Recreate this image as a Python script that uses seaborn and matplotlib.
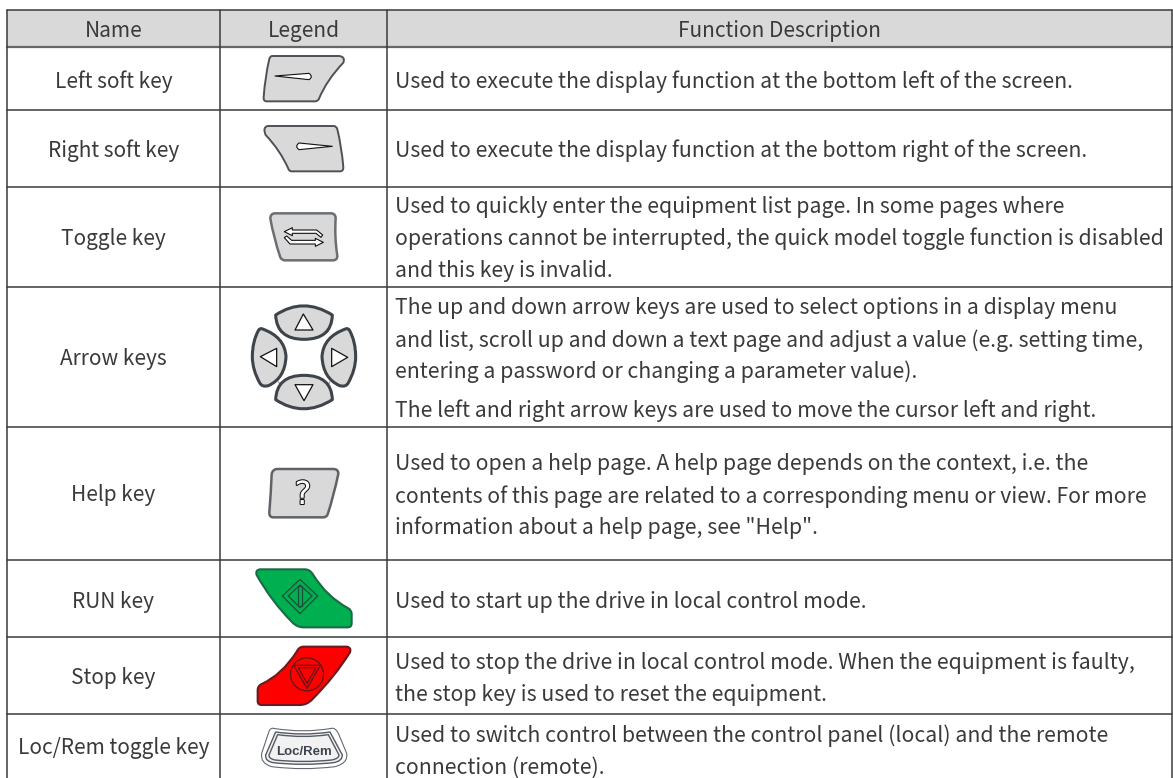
#!/usr/bin/env python3
"""Control panel key table, drawn on a pixel-sized axes."""

import re
import matplotlib
matplotlib.use('Agg')
import matplotlib.pyplot as plt
import matplotlib.patheffects as pe
from matplotlib.patches import Circle, PathPatch, Rectangle
from matplotlib.path import Path
import seaborn as sns

# table content
headers = ['Name', 'Legend', 'Function Description']
names = ['Left soft key', 'Right soft key', 'Toggle key', 'Arrow keys', 'Help key',
         'RUN key', 'Stop key', 'Loc/Rem toggle key']
descriptions = [
    ['Used to execute the display function at the bottom left of the screen.'],
    ['Used to execute the display function at the bottom right of the screen.'],
    ['Used to quickly enter the equipment list page. In some pages where',
     'operations cannot be interrupted, the quick model toggle function is disabled',
     'and this key is invalid.'],
    ['The up and down arrow keys are used to select options in a display menu',
     'and list, scroll up and down a text page and adjust a value (e.g. setting time,',
     'entering a password or changing a parameter value).',
     'The left and right arrow keys are used to move the cursor left and right.'],
    ['Used to open a help page. A help page depends on the context, i.e. the',
     'contents of this page are related to a corresponding menu or view. For more',
     'information about a help page, see "Help".'],
    ['Used to start up the drive in local control mode.'],
    ['Used to stop the drive in local control mode. When the equipment is faulty,',
     'the stop key is used to reset the equipment.'],
    ['Used to switch control between the control panel (local) and the remote',
     'connection (remote).'],
]

# layout in image pixels
col_edges = [7, 220, 387, 1172]
row_edges = [10, 47, 110, 186.5, 286.5, 426.5, 559.5, 637, 714]
table_bottom = 790
name_baselines = [87.7, 156.7, 245.2, 364.7, 500.7, 608.2, 683.7, 753.7]
desc_baselines = [[87.7], [156.7], [212.7, 245.2, 276.7], [314.2, 346.7, 378.2, 416.7],
                  [470.2, 502.7, 534.2], [608.2], [669.2, 700.7], [741.7, 773.7]]
header_baseline = 37
desc_x = 395

TEXT = '#3a3a3a'
LINE = '#3a3a3a'
KEY_GREY = '#d9d9d9'
KEY_EDGE = '#4d5157'
FONT = ['Noto Sans CJK SC', 'DejaVu Sans']
NAME_SIZE = 15
DESC_SIZE = 15.3


def icon_path(spec, ox, oy):
    """Turn a small M/L/Q/Z string in 3x crop units into a path in pixels."""
    verts, codes = [], []
    tokens = re.findall(r'[MLQZ]|-?[\d.]+', spec)
    i = 0
    while i < len(tokens):
        cmd = tokens[i]
        i += 1
        if cmd == 'Z':
            verts.append(verts[0])
            codes.append(Path.CLOSEPOLY)
            continue
        n = 2 if cmd == 'Q' else 1
        for k in range(n):
            x = ox + float(tokens[i]) / 3
            y = oy + float(tokens[i + 1]) / 3
            i += 2
            verts.append((x, y))
            codes.append({'M': Path.MOVETO, 'L': Path.LINETO, 'Q': Path.CURVE3}[cmd])
    return Path(verts, codes)


def draw_icon(ax, spec, origin, fc=KEY_GREY, ec=KEY_EDGE, lw=1.4, z=3):
    ax.add_patch(PathPatch(icon_path(spec, *origin), facecolor=fc, edgecolor=ec,
                           linewidth=lw, joinstyle='round', zorder=z))


def draw_soft_keys(ax):
    o = (235, 40)
    draw_icon(ax, 'M112 48 L312 48 Q332 50 325 68 Q275 120 252 176 Q249 184 240 184 '
                  'L95 184 Q85 184 86 172 Q90 110 103 57 Q105 48 112 48 Z', o)
    draw_icon(ax, 'M120 108 L222 100 Q236 110 222 119 Z', o, fc='white', ec='#111111', lw=0.8, z=4)
    draw_icon(ax, 'M98 258 L295 258 Q305 258 307 268 Q320 320 325 382 Q325 394 315 394 '
                  'L170 394 Q162 394 160 386 Q135 330 92 285 Q82 262 98 258 Z', o)
    draw_icon(ax, 'M292 319 L192 309 Q178 319 192 329 Z', o, fc='white', ec='#111111', lw=0.8, z=4)


def draw_toggle_key(ax):
    o = (235, 180)
    draw_icon(ax, 'M118 100 L290 100 Q302 102 302 115 Q298 170 307 228 Q307 240 295 241 '
                  'L150 241 Q140 241 136 232 Q115 170 106 115 Q106 102 118 100 Z', o, ec='#6b6f74', lw=1.8)
    draw_icon(ax, 'M148 155 L172 143 L172 150 L245 150 L263 165 L258 172 L243 160 L172 160 L172 167 Z',
              o, fc='white', ec='#111111', lw=0.8, z=4)
    draw_icon(ax, 'M265 187 L241 175 L241 181 L170 181 L155 168 L148 173 L165 192 L241 192 L241 199 Z',
              o, fc='white', ec='#111111', lw=0.8, z=4)


def draw_arrow_keys(ax):
    o = (235, 240)
    for spec in ['M130 265 L138 278', 'M285 265 L277 278', 'M130 425 L138 438', 'M285 425 L277 438']:
        draw_icon(ax, spec, o, fc='none', ec='#777777', lw=0.7, z=2)
    keys = ['M122 225 Q205 170 292 225 Q290 298 207 298 Q125 298 122 225 Z',
            'M122 479 Q205 534 292 479 Q290 406 207 406 Q125 406 122 479 Z',
            'M80 266 Q150 290 153 350 Q150 415 100 437 Q82 442 75 430 Q52 390 52 350 '
            'Q52 305 70 272 Q73 265 80 266 Z',
            'M334 266 Q264 290 261 350 Q264 415 314 437 Q332 442 339 430 Q362 390 362 350 '
            'Q362 305 344 272 Q341 265 334 266 Z']
    for spec in keys:
        draw_icon(ax, spec, o, ec='#3f444a', lw=2.2)
    for spec in ['M205 222 L180 270 L234 270 Z', 'M207 482 L180 434 L234 434 Z',
                 'M76 350 L125 325 L125 380 Z', 'M338 352 L290 325 L290 380 Z']:
        draw_icon(ax, spec, o, fc='white', ec='#111111', lw=0.9, z=4)


def draw_help_key(ax):
    o = (235, 425)
    draw_icon(ax, 'M125 132 L295 132 Q310 132 310 146 Q297 210 278 268 Q275 277 265 277 '
                  'L115 277 Q102 277 103 262 Q108 200 110 148 Q112 134 125 132 Z', o, ec='#5f6368', lw=1.8)
    ax.text(303, 504, '?', family='DejaVu Sans', fontsize=23, color='white', ha='center', va='baseline',
            zorder=5, path_effects=[pe.withStroke(linewidth=1.5, foreground='#111111')])


def draw_run_key(ax):
    o = (235, 520)
    dark = '#1d4f3a'
    draw_icon(ax, 'M75 148 L210 148 Q225 148 235 165 Q275 230 340 265 Q350 270 350 282 '
                  'L350 310 Q350 322 338 322 L205 322 Q185 322 170 305 Q110 245 65 165 Q60 150 75 148 Z',
              o, fc='#00b050', ec='#1a6a45', lw=1.5)
    for spec in ['M195 178 L248 228 L195 281 L142 228 Z', 'M195 195 L231 228 L195 263 L160 228 Z',
                 'M189 198 L201 198 L201 258 L189 258 Z']:
        draw_icon(ax, spec, o, fc='none', ec=dark, lw=0.9, z=4)


def draw_stop_key(ax):
    o = (235, 520)
    dark = '#5b1518'
    draw_icon(ax, 'M205 380 L335 380 Q350 382 345 397 Q300 470 230 540 Q215 555 195 555 '
                  'L80 555 Q68 555 68 543 L68 510 Q68 498 80 492 Q140 465 185 395 Q192 380 205 380 Z',
              o, fc='#ff0000', ec='#6a1a20', lw=1.5)
    cx, cy = 235 + 216 / 3, 520 + 463 / 3
    ax.add_patch(Circle((cx, cy), 16.5, fc='none', ec=dark, lw=0.9, zorder=4))
    for spec in ['M176 436 L256 436 L216 505 Z', 'M190 443 L243 443 L216 490 Z']:
        draw_icon(ax, spec, o, fc='none', ec=dark, lw=0.9, z=4)


def draw_locrem_key(ax):
    o = (235, 520)
    draw_icon(ax, 'M115 625 Q205 640 290 625 Q300 622 310 640 L335 700 Q340 730 300 740 '
                  'Q205 752 110 740 Q75 730 80 700 L100 640 Q105 622 115 625 Z', o, fc='white', ec='#666a70', lw=0.8)
    draw_icon(ax, 'M122 636 Q205 648 285 636 L322 705 Q322 724 295 728 Q205 738 115 728 Q90 724 92 705 Z',
              o, fc='#f2f2f2', ec='#555a62', lw=1.0)
    draw_icon(ax, 'M128 644 Q205 655 280 644 L312 705 Q312 716 290 720 Q205 729 120 720 Q101 716 102 705 Z',
              o, fc='#f2f2f2', ec='#555a62', lw=1.0)
    ax.text(304, 755, 'Loc/Rem', family='Liberation Sans', fontweight='bold', fontsize=9.5,
            color='#3f4450', ha='center', va='baseline', zorder=5)


def main():
    sns.set_theme(style='white')
    plt.rcParams['font.family'] = FONT

    fig, ax = plt.subplots(figsize=(11.73, 7.78), dpi=100)
    ax.set_position([0, 0, 1, 1])

    # header band
    ax.add_patch(Rectangle((col_edges[0], row_edges[0]), col_edges[-1] - col_edges[0],
                           row_edges[1] - row_edges[0], facecolor='#d9d9d9', edgecolor='none', zorder=0))

    # grid
    for y in row_edges:
        lw = 1.6 if y == row_edges[1] else 1.1
        color = '#666666' if y == row_edges[1] else LINE
        sns.lineplot(x=[col_edges[0], col_edges[-1]], y=[y, y], color=color, linewidth=lw, ax=ax, zorder=1)
    for x in col_edges:
        sns.lineplot(x=[x, x], y=[row_edges[0], table_bottom], color=LINE, linewidth=1.1, ax=ax,
                     orient='y', estimator=None, zorder=1)

    ax.set_xlim(0, 1173)
    ax.set_ylim(778, 0)
    ax.axis('off')

    # text
    centres = [(col_edges[i] + col_edges[i + 1]) / 2 for i in range(3)]
    for x, label in zip(centres, headers):
        ax.text(x, header_baseline, label, ha='center', va='baseline', fontsize=NAME_SIZE, color=TEXT)
    for label, y in zip(names, name_baselines):
        ax.text(centres[0], y, label, ha='center', va='baseline', fontsize=NAME_SIZE, color=TEXT)
    for lines, ys in zip(descriptions, desc_baselines):
        for line, y in zip(lines, ys):
            ax.text(desc_x, y, line, ha='left', va='baseline', fontsize=DESC_SIZE, color=TEXT)

    # key pictures
    draw_soft_keys(ax)
    draw_toggle_key(ax)
    draw_arrow_keys(ax)
    draw_help_key(ax)
    draw_run_key(ax)
    draw_stop_key(ax)
    draw_locrem_key(ax)

    fig.savefig('out.png', dpi=100)


if __name__ == '__main__':
    main()
